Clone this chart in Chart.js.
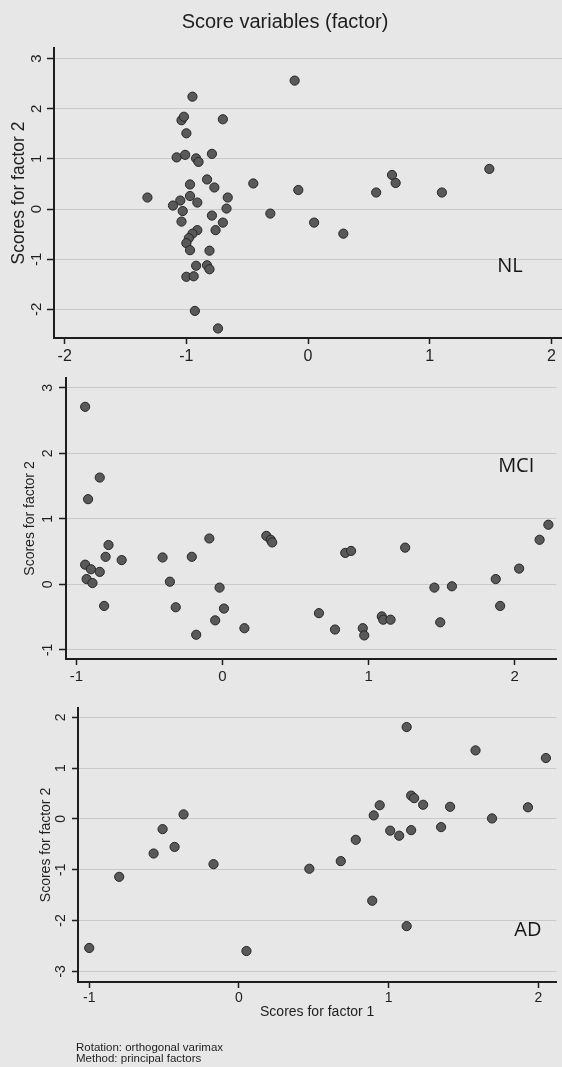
<!DOCTYPE html>
<html>
<head>
<meta charset="utf-8">
<title>Score variables (factor)</title>
<script src="https://cdn.jsdelivr.net/npm/chart.js@4.4.1/dist/chart.umd.min.js"></script>
<style>
  html, body { margin: 0; padding: 0; }
  body { width: 562px; height: 1067px; overflow: hidden; position: relative; background: #e7e7e7; }
  canvas { position: absolute; left: 0; }
</style>
</head>
<body>
<canvas id="nlChart" width="570" height="368" style="top:0px"></canvas>
<canvas id="mciChart" width="562" height="330" style="top:360px"></canvas>
<canvas id="adChart" width="562" height="377" style="top:690px"></canvas>
<script>
// values (factor 1 = x, factor 2 = y)
const nlX = [-0.11, -0.95, -0.70, -1.04, -1.02, -1.00, -1.08, -1.01, -0.92, -0.90,
  -0.79, -0.83, -0.97, -0.77, -0.45, -1.32, -0.97, -1.05, -1.11, -0.91,
  -0.66, -0.67, -1.03, -0.79, -1.04, -0.70, -0.76, -0.91, -0.95, -0.98,
  -1.00, -0.97, -0.81, -0.31, -0.08, 0.05, 0.29, 0.56, 0.69, 0.72,
  1.10, 1.49, -0.92, -0.83, -0.81, -1.00, -0.94, -0.93, -0.74];
const nlY = [2.56, 2.24, 1.79, 1.77, 1.84, 1.51, 1.03, 1.08, 1.01, 0.94,
  1.10, 0.59, 0.49, 0.43, 0.51, 0.23, 0.26, 0.17, 0.07, 0.13,
  0.23, 0.01, -0.04, -0.13, -0.25, -0.27, -0.42, -0.42, -0.49, -0.58,
  -0.68, -0.82, -0.83, -0.09, 0.38, -0.27, -0.49, 0.33, 0.68, 0.52,
  0.33, 0.80, -1.13, -1.12, -1.20, -1.35, -1.34, -2.03, -2.38];

const mciX = [-0.94, -0.84, -0.92, -0.78, -0.80, -0.69, -0.94, -0.90, -0.84, -0.93,
  -0.89, -0.81, -0.41, -0.21, -0.09, -0.36, -0.32, -0.02, 0.01, -0.05,
  -0.18, 0.15, 0.30, 0.33, 0.34, 0.66, 0.77, 0.84, 0.88, 0.96,
  0.97, 1.09, 1.10, 1.15, 1.25, 1.45, 1.57, 1.49, 1.87, 1.90,
  2.03, 2.17, 2.23];
const mciY = [2.71, 1.63, 1.30, 0.60, 0.42, 0.37, 0.30, 0.23, 0.19, 0.08,
  0.02, -0.33, 0.41, 0.42, 0.70, 0.04, -0.35, -0.05, -0.37, -0.55,
  -0.77, -0.67, 0.74, 0.68, 0.64, -0.44, -0.69, 0.48, 0.51, -0.67,
  -0.78, -0.49, -0.54, -0.54, 0.56, -0.05, -0.03, -0.58, 0.08, -0.33,
  0.24, 0.68, 0.91];

const adX = [-1.00, -0.80, -0.57, -0.51, -0.43, -0.37, -0.17, 0.05, 0.47, 0.68,
  0.78, 0.89, 0.90, 0.94, 1.01, 1.07, 1.12, 1.12, 1.15, 1.17,
  1.15, 1.23, 1.35, 1.41, 1.58, 1.69, 1.93, 2.05];
const adY = [-2.54, -1.14, -0.68, -0.20, -0.55, 0.09, -0.89, -2.60, -0.98, -0.83,
  -0.41, -1.61, 0.07, 0.27, -0.23, -0.33, 1.81, -2.11, 0.46, 0.41,
  -0.22, 0.28, -0.16, 0.24, 1.35, 0.01, 0.23, 1.20];

// tick labels
const nlXTicks = [-2, -1, 0, 1, 2];
const nlYTicks = [-2, -1, 0, 1, 2, 3];
const mciXTicks = [-1, 0, 1, 2];
const mciYTicks = [-1, 0, 1, 2, 3];
const adXTicks = [-1, 0, 1, 2];
const adYTicks = [-3, -2, -1, 0, 1, 2];

// group names and where they sit (data units)
const groupNames = ['NL', 'MCI', 'AD'];
const groupLabelX = [1.66, 2.01, 1.93];
const groupLabelY = [-1.14, 1.80, -2.20];

const mainTitle = 'Score variables (factor)';
const xAxisTitle = 'Scores for factor 1';
const yAxisTitle = 'Scores for factor 2';
const noteLines = ['Rotation: orthogonal varimax', 'Method: principal factors'];

const INK = '#1e1e1e';
const FONT = '"Liberation Sans", Arial, sans-serif';

// draws NL / MCI / AD inside the plot, placed through the scales
const groupLabelPlugin = {
  id: 'groupLabel',
  afterDatasetsDraw(chart, args, opts) {
    if (!opts || !opts.text) return;
    const { ctx, scales } = chart;
    ctx.save();
    ctx.font = '20px "Open Sans", "Noto Sans", sans-serif';
    ctx.fillStyle = '#151515';
    ctx.textAlign = 'center';
    ctx.textBaseline = 'middle';
    ctx.fillText(opts.text, scales.x.getPixelForValue(opts.x), scales.y.getPixelForValue(opts.y));
    ctx.restore();
  }
};

// the little Stata note under the last graph
const notesPlugin = {
  id: 'notes',
  afterDraw(chart, args, opts) {
    if (!opts || !opts.lines) return;
    const { ctx, chartArea } = chart;
    ctx.save();
    ctx.font = '11.5px ' + FONT;
    ctx.fillStyle = INK;
    ctx.textAlign = 'left';
    ctx.textBaseline = 'middle';
    opts.lines.forEach((line, i) => {
      ctx.fillText(line, chartArea.left - 2, chartArea.bottom + 66 + i * 10.5);
    });
    ctx.restore();
  }
};

function scatterPanel(id, p) {
  const points = p.xs.map((x, i) => ({ x: x, y: p.ys[i] }));
  return new Chart(document.getElementById(id), {
    type: 'scatter',
    data: {
      datasets: [{
        data: points,
        pointRadius: 4.6,
        pointBackgroundColor: '#595959',
        pointBorderColor: '#262626',
        pointBorderWidth: 1
      }]
    },
    options: {
      responsive: false,
      animation: false,
      devicePixelRatio: 1,
      layout: { padding: { top: p.padTop, bottom: p.padBottom, left: 0, right: 0 } },
      plugins: {
        legend: { display: false },
        tooltip: { enabled: false },
        title: p.title || { display: false },
        groupLabel: { text: p.group, x: p.groupX, y: p.groupY },
        notes: { lines: p.notes || null }
      },
      scales: {
        x: {
          type: 'linear',
          min: p.xMin,
          max: p.xMax,
          afterBuildTicks: s => { s.ticks = p.xTicks.map(v => ({ value: v })); },
          afterFit: s => { s.height = p.xHeight; },
          grid: { display: true, drawOnChartArea: false, drawTicks: true, tickLength: 6, tickColor: INK, tickWidth: 1.5 },
          border: { display: true, color: INK, width: 2 },
          ticks: {
            color: INK, autoSkip: false, maxRotation: 0, padding: p.xTickPad,
            font: { family: FONT, size: p.xTickSize },
            callback: v => String(v)
          },
          title: p.xTitle
            ? { display: true, text: p.xTitle, color: INK, font: { family: FONT, size: 14 }, padding: { top: 0, bottom: 1 } }
            : { display: false }
        },
        y: {
          type: 'linear',
          min: p.yMin,
          max: p.yMax,
          afterBuildTicks: s => { s.ticks = p.yTicks.map(v => ({ value: v })); },
          afterFit: s => { s.width = p.yWidth; },
          grid: { display: true, drawOnChartArea: true, drawTicks: true, color: '#c9c9c9', lineWidth: 1,
                  tickLength: p.yTickLen, tickColor: INK, tickWidth: 1.5 },
          border: { display: true, color: INK, width: 2 },
          ticks: {
            color: INK, autoSkip: false, minRotation: 90, maxRotation: 90, crossAlign: 'center',
            padding: p.yTickPad, font: { family: FONT, size: p.yTickSize },
            callback: v => String(v)
          },
          title: { display: true, text: yAxisTitle, color: INK, font: { family: FONT, size: p.yTitleSize },
                   padding: { top: p.yTitlePad, bottom: 0 } }
        }
      }
    },
    plugins: [groupLabelPlugin, notesPlugin]
  });
}

scatterPanel('nlChart', {
  xs: nlX, ys: nlY, xTicks: nlXTicks, yTicks: nlYTicks,
  xMin: -2.088, xMax: 2.107, yMin: -2.57, yMax: 3.21,
  group: groupNames[0], groupX: groupLabelX[0], groupY: groupLabelY[0],
  title: { display: true, text: mainTitle, color: INK, font: { family: FONT, size: 20, weight: 'normal' },
           padding: { top: 10, bottom: 14 } },
  padTop: 0, padBottom: 0, xHeight: 30, yWidth: 54,
  xTickPad: 3, xTickSize: 16, yTickLen: 7, yTickPad: 3, yTickSize: 15,
  yTitleSize: 17.5, yTitlePad: 9
});

scatterPanel('mciChart', {
  xs: mciX, ys: mciY, xTicks: mciXTicks, yTicks: mciYTicks,
  xMin: -1.071, xMax: 2.285, yMin: -1.14, yMax: 3.15,
  group: groupNames[1], groupX: groupLabelX[1], groupY: groupLabelY[1],
  padTop: 18, padBottom: 0, xHeight: 31, yWidth: 66,
  xTickPad: 3, xTickSize: 15, yTickLen: 7, yTickPad: 5, yTickSize: 14,
  yTitleSize: 14, yTitlePad: 22
});

scatterPanel('adChart', {
  xs: adX, ys: adY, xTicks: adXTicks, yTicks: adYTicks,
  xMin: -1.075, xMax: 2.12, yMin: -3.21, yMax: 2.185,
  group: groupNames[2], groupX: groupLabelX[2], groupY: groupLabelY[2],
  xTitle: xAxisTitle, notes: noteLines,
  padTop: 18, padBottom: 45, xHeight: 40, yWidth: 78,
  xTickPad: 2, xTickSize: 14, yTickLen: 6, yTickPad: 5, yTickSize: 14,
  yTitleSize: 14, yTitlePad: 38
});
</script>
</body>
</html>
